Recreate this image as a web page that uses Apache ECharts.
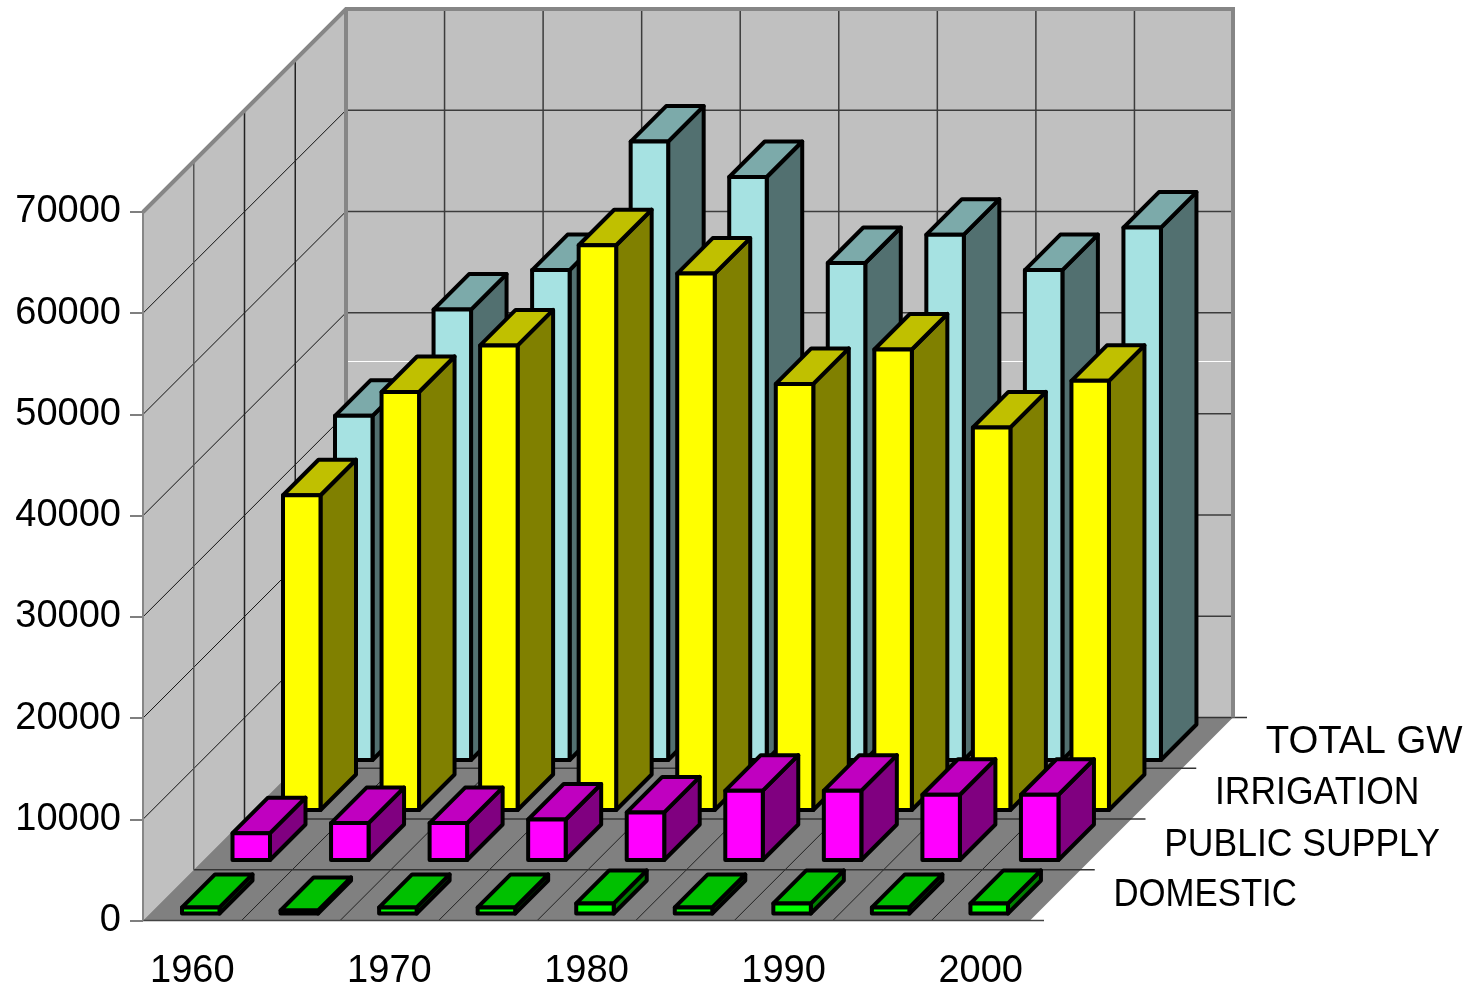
<!DOCTYPE html>
<html>
<head>
<meta charset="utf-8">
<title>Ground water withdrawals</title>
<style>html,body{margin:0;padding:0;background:#fff}#chart{width:1470px;height:987px}</style>
<script src="https://cdn.jsdelivr.net/npm/echarts@6/dist/echarts.min.js"></script>
</head>
<body>
<div id="chart"></div>
<script>
// Chart values
var years = ['1960','1965','1970','1975','1980','1985','1990','1995','2000'];
var yTicks = [0,10000,20000,30000,40000,50000,60000,70000];
var rowNames = ['DOMESTIC','PUBLIC SUPPLY','IRRIGATION','TOTAL GW'];
var domestic = [600,300,600,600,1000,600,1000,600,1000];
var publicSupply = [2650,3650,3650,4000,4700,6850,6850,6450,6450];
var irrigation = [31100,41300,45900,55800,53000,42100,45500,37800,42400];
var totalGw = [34000,44500,48400,61100,57600,49100,51900,48400,52600];

// Oblique projection of the box and of the bars standing in it
var DEPTH = 203;
var ROW_DX = [39, 89.5, 140, 192];
var ROW_DY = [7, 60.5, 110.5, 160.5];
var ROW_LABEL_SCALE = [0.915, 0.935, 0.935, 1.01];
var ROW_LABEL_DROP = [0, 1, 0, 0];
var BAR_W = 37.5;
var BAR_D = [33, 35.5, 35.5, 35.5];
var BAR_STROKE = 4;
var WALL = '#c0c0c0', FLOOR = '#808080', EDGE = '#868686', GRID = '#3c3c3c';
var FONT = '"Liberation Sans", Arial, sans-serif';

var palettes = [
  {front:'#00ff00', top:'#00c000', side:'#008000'},
  {front:'#ff00ff', top:'#c000c0', side:'#800080'},
  {front:'#ffff00', top:'#c0c000', side:'#808000'},
  {front:'#a6e2e2', top:'#7caaaa', side:'#527070'}
];

function line(x1,y1,x2,y2,color,w){
  return {type:'line',shape:{x1:x1,y1:y1,x2:x2,y2:y2},style:{stroke:color,lineWidth:w}};
}
function poly(points,fill,stroke,w){
  return {type:'polygon',shape:{points:points},style:{fill:fill,stroke:stroke||null,lineWidth:w||0,lineJoin:'round'}};
}

// Walls, floor, grid lines and row labels
function renderBox(params, api){
  var o = api.coord([0,0]);
  var band = api.size([1,0])[0];
  var x0 = o[0]-band/2, y0 = o[1];
  var xEnd = x0+band*years.length;
  var top = api.coord([0,yTicks[yTicks.length-1]])[1];
  var c = [];
  // left wall, back wall, floor
  c.push(poly([[x0,y0],[x0,top],[x0+DEPTH,top-DEPTH],[x0+DEPTH,y0-DEPTH]],WALL));
  c.push(poly([[x0+DEPTH,y0-DEPTH],[x0+DEPTH,top-DEPTH],[xEnd+DEPTH,top-DEPTH],[xEnd+DEPTH,y0-DEPTH]],WALL));
  c.push(poly([[x0,y0],[x0+DEPTH,y0-DEPTH],[xEnd+DEPTH,y0-DEPTH],[xEnd,y0]],FLOOR));
  // value grid lines
  yTicks.forEach(function(v){
    if(v===0) return;
    var y = api.coord([0,v])[1];
    if(v<yTicks[yTicks.length-1]) c.push(line(x0,y,x0+DEPTH,y-DEPTH,'#111',1));
    if(v<yTicks[yTicks.length-1]) c.push(line(x0+DEPTH,y-DEPTH,xEnd+DEPTH,y-DEPTH,GRID,1.5));
  });
  // highlight running across the back wall
  c.push(line(x0+DEPTH+1,361.5,xEnd+DEPTH-1,361.5,'#ffffff',1.2));
  // category grid lines
  years.forEach(function(_,i){
    if(i===0) return;
    var x = x0+band*i;
    c.push(line(x,y0,x+DEPTH,y0-DEPTH,'#222',1));
    c.push(line(x+DEPTH,y0-DEPTH,x+DEPTH,top-DEPTH,GRID,1.5));
  });
  // depth grid lines and row labels
  var step = DEPTH/rowNames.length;
  for(var r=0;r<=rowNames.length;r++){
    var d = step*r;
    c.push(line(x0+d,y0-d,xEnd+d+14,y0-d,r===0?'#444':'#333',1.5));
    if(r>0&&r<rowNames.length){
      c.push(line(x0+d,y0-d,x0+d,top-d,r===1?'#555':'#222',1.5));
    }
  }
  rowNames.forEach(function(name,r){
    var d = step*(r+0.5);
    c.push({type:'text',x:xEnd+d+58,y:y0-d+ROW_LABEL_DROP[r],scaleX:ROW_LABEL_SCALE[r],
      style:{text:name,x:0,y:0,fill:'#000',font:'38px '+FONT,textAlign:'left',textVerticalAlign:'middle'}});
  });
  // heavy outline of the box
  c.push({type:'polyline',shape:{points:[[x0,top],[x0+DEPTH,top-DEPTH],[xEnd+DEPTH,top-DEPTH],[xEnd+DEPTH,y0-DEPTH]]},
    style:{stroke:EDGE,lineWidth:4,fill:null,lineJoin:'miter'}});
  c.push(line(x0+DEPTH,top-DEPTH,x0+DEPTH,y0-DEPTH,EDGE,4));
  c.push(line(x0,top,x0,y0,EDGE,2));
  return {type:'group',children:c};
}

// One row of prisms
function renderRow(row){
  return function(params, api){
    var i = api.value(0), v = api.value(1);
    var band = api.size([1,0])[0];
    var c = api.coord([i,0]), t = api.coord([i,v]);
    var x = c[0]-band/2+ROW_DX[row];
    var yb = c[1]-ROW_DY[row];
    var yt = yb-(c[1]-t[1]);
    var p = palettes[row], w = BAR_STROKE;
    var dx = BAR_D[row], dy = BAR_D[row];
    return {type:'group',children:[
      poly([[x+BAR_W,yb],[x+BAR_W,yt],[x+BAR_W+dx,yt-dy],[x+BAR_W+dx,yb-dy]],p.side,'#000',w),
      poly([[x,yt],[x+dx,yt-dy],[x+BAR_W+dx,yt-dy],[x+BAR_W,yt]],p.top,'#000',w),
      poly([[x,yb],[x,yt],[x+BAR_W,yt],[x+BAR_W,yb]],p.front,'#000',w)
    ]};
  };
}

function rowSeries(name,row,values){
  return {type:'custom',name:name,coordinateSystem:'cartesian2d',clip:false,
    renderItem:renderRow(row),encode:{x:0,y:1},silent:true,
    data:values.map(function(v,i){return [i,v];})};
}

var chart = echarts.init(document.getElementById('chart'));
chart.setOption({
  animation:false,
  backgroundColor:'#ffffff',
  tooltip:{show:false},
  grid:{left:143,top:212,width:887,height:708.5,containLabel:false,outerBoundsMode:'none'},
  xAxis:{type:'category',data:years,
    axisLine:{show:false},axisTick:{show:false},splitLine:{show:false},
    axisLabel:{interval:1,margin:32,color:'#000',fontSize:38,fontFamily:FONT}},
  yAxis:{type:'value',min:0,max:70000,interval:10000,
    axisLine:{show:false},splitLine:{show:false},
    axisTick:{show:true,length:13,lineStyle:{color:'#555',width:1.5}},
    axisLabel:{margin:22,color:'#000',fontSize:38,fontFamily:FONT,
      formatter:function(v){return String(v);}}},
  series:[
    {type:'custom',coordinateSystem:'cartesian2d',clip:false,silent:true,
      renderItem:renderBox,data:[[0,0]],encode:{x:0,y:1}},
    rowSeries(rowNames[3],3,totalGw),
    rowSeries(rowNames[2],2,irrigation),
    rowSeries(rowNames[1],1,publicSupply),
    rowSeries(rowNames[0],0,domestic)
  ]
});
</script>
</body>
</html>
